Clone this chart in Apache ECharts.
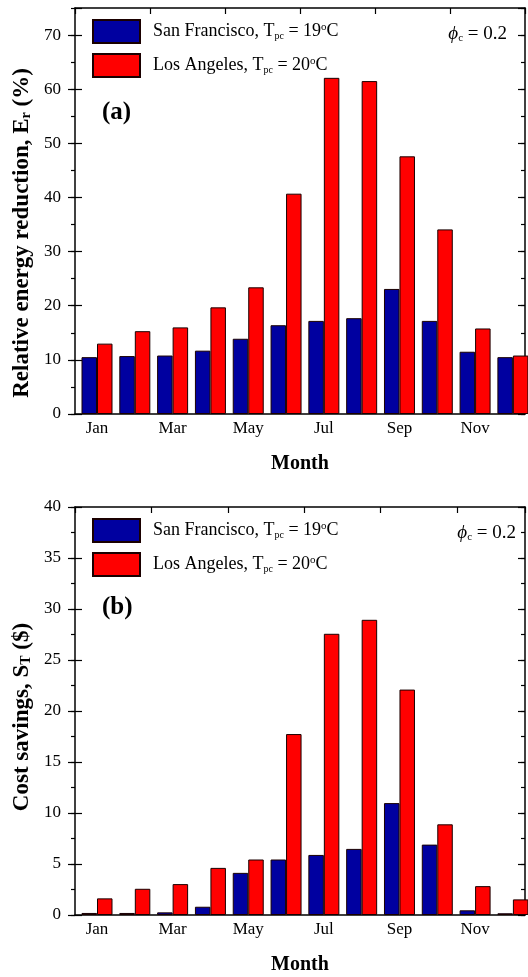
<!DOCTYPE html>
<html>
<head>
<meta charset="utf-8">
<script src="https://cdn.jsdelivr.net/npm/echarts@6/dist/echarts.min.js"></script>
<style>
html,body{margin:0;padding:0;background:#fff;}
#chart{width:528px;height:977px;}
</style>
</head>
<body>
<div id="chart"></div>
<script>
// ---- data ----
var months = ['Jan','Feb','Mar','Apr','May','Jun','Jul','Aug','Sep','Oct','Nov','Dec'];
var labelMonths = [1, 3, 5, 7, 9, 11];
var energySF = [10.5, 10.7, 10.8, 11.7, 13.9, 16.4, 17.2, 17.7, 23.1, 17.2, 11.5, 10.5];
var energyLA = [13.0, 15.3, 16.0, 19.7, 23.4, 40.7, 62.1, 61.5, 47.6, 34.1, 15.8, 10.8];
var costSF = [0.2, 0.2, 0.26, 0.81, 4.13, 5.44, 5.89, 6.48, 10.97, 6.9, 0.46, 0.17];
var costLA = [1.63, 2.57, 3.03, 4.62, 5.44, 17.74, 27.57, 28.94, 22.1, 8.89, 2.83, 1.53];
var seriesNames = ['San Francisco', 'Los Angeles'];
var legendTexts = {
  'San Francisco': 'San Francisco, T{sub|pc} = 19{sup|o}C',
  'Los Angeles': 'Los Angeles, T{sub|pc} = 20{sup|o}C'
};
var yTitleA = 'Relative energy reduction, E{sub|r} (%)';
var yTitleB = 'Cost savings, S{sub|T} ($)';

var FF = 'Liberation Serif';
var BLUE = '#0000A0', RED = '#FF0000';

function pairs(arr){ return arr.map(function(v,i){ return [i+1, v]; }); }

var chart = echarts.init(document.getElementById('chart'), null, {renderer:'canvas'});

var lineStyle = {color:'#000', width:1.5};

function bottomX(grid){
  return {
    gridIndex: grid, type:'value', position:'bottom', min:0.418, max:12.32,
    axisLine:{show:true, onZero:false, lineStyle:lineStyle},
    axisTick:{show:false}, splitLine:{show:false},
    axisLabel:{customValues:labelMonths, formatter:function(v){return months[Math.round(v)-1];},
      fontFamily:FF, fontSize:17, color:'#000', margin:6},
    name:'Month', nameLocation:'middle', nameGap:40,
    nameTextStyle:{fontFamily:FF, fontWeight:'bold', fontSize:20, color:'#000'}
  };
}
function topX(grid, max){
  return {
    gridIndex: grid, type:'value', position:'top', min:0, max:max, interval:1,
    axisLine:{show:true, onZero:false, lineStyle:lineStyle},
    axisTick:{show:true, inside:true, length:6, lineStyle:{color:'#000', width:1.2}},
    axisLabel:{show:false}, splitLine:{show:false}
  };
}
function yAxes(grid, max, interval, minor){
  var base = {gridIndex:grid, type:'value', min:0, max:max, splitLine:{show:false}};
  return [
    Object.assign({}, base, {position:'left', interval:interval,
      axisLine:{show:true, onZero:false, lineStyle:lineStyle},
      axisTick:{show:true, inside:false, length:7, lineStyle:{color:'#000', width:1.2}},
      axisLabel:{fontFamily:FF, fontSize:17, color:'#000', margin:14, showMaxLabel:(max % interval === 0)}
    }),
    Object.assign({}, base, {position:'left', interval:interval,
      axisLine:{show:false}, axisLabel:{show:false},
      axisTick:{show:true, inside:true, length:7, lineStyle:{color:'#000', width:1.2}}}),
    Object.assign({}, base, {position:'left', interval:minor,
      axisLine:{show:false}, axisLabel:{show:false},
      axisTick:{show:true, inside:false, length:4, lineStyle:{color:'#000', width:1.2}}}),
    Object.assign({}, base, {position:'right', interval:interval,
      axisLine:{show:true, onZero:false, lineStyle:lineStyle}, axisLabel:{show:false},
      axisTick:{show:true, inside:true, length:7, lineStyle:{color:'#000', width:1.2}}}),
    Object.assign({}, base, {position:'right', interval:minor,
      axisLine:{show:false}, axisLabel:{show:false},
      axisTick:{show:true, inside:true, length:4, lineStyle:{color:'#000', width:1.2}}})
  ];
}

function barSeries(name, color, data, xi, yi){
  return {type:'bar', name:name, xAxisIndex:xi, yAxisIndex:yi, data:pairs(data),
    barWidth:15.5, barGap:'0%', clip:false,
    itemStyle:{color:color, borderColor:'#1a0000', borderWidth:1}};
}

function legend(top){
  return {
    data:seriesNames, orient:'vertical', left:92, top:top, padding:0,
    itemWidth:47, itemHeight:23, itemGap:9, icon:'rect',
    formatter:function(n){ return legendTexts[n]; },
    textStyle:{fontFamily:FF, fontSize:18, color:'#000', padding:[0,0,0,8],
      rich:{
        sub:{fontFamily:FF, fontSize:10, color:'#000', verticalAlign:'bottom', padding:[8,0,0,0]},
        sup:{fontFamily:FF, fontSize:11, color:'#000', verticalAlign:'top', padding:[0,0,8,0]}
      }}
  };
}

function phiText(right, y){
  return {type:'text', x:right, y:y, style:{
    text:'{i|ϕ}{s|c} = 0.2', fontFamily:FF, fontSize:19, fill:'#000', align:'right', verticalAlign:'middle',
    rich:{i:{fontFamily:FF, fontStyle:'italic', fontSize:19, fill:'#000'},
          s:{fontFamily:FF, fontSize:11, fill:'#000', verticalAlign:'bottom', padding:[8,0,0,0]}}
  }};
}
function panelText(t, x, y){
  return {type:'text', x:x, y:y, style:{text:t, fontFamily:FF, fontWeight:'bold', fontSize:25, fill:'#000', align:'left', verticalAlign:'middle'}};
}
function yTitle(t, x, y){
  return {type:'text', x:x, y:y, rotation:Math.PI/2, style:{
    text:t, fontFamily:FF, fontWeight:'bold', fontSize:23, fill:'#000', align:'center', verticalAlign:'middle',
    rich:{sub:{fontFamily:FF, fontWeight:'bold', fontSize:14, fill:'#000', verticalAlign:'bottom', padding:[9,0,0,0]}}
  }};
}

var option = {
  animation:false,
  backgroundColor:'#fff',
  grid:[{left:75, top:8, width:450, height:406}, {left:75, top:507, width:450, height:408}],
  xAxis:[bottomX(0), topX(0, 6), bottomX(1), topX(1, 5.89)],
  yAxis:[].concat(yAxes(0, 75, 10, 5), yAxes(1, 40, 5, 2.5)),
  legend:[legend(19), legend(518)],
  series:[
    barSeries(seriesNames[0], BLUE, energySF, 0, 0),
    barSeries(seriesNames[1], RED, energyLA, 0, 0),
    barSeries(seriesNames[0], BLUE, costSF, 2, 5),
    barSeries(seriesNames[1], RED, costLA, 2, 5)
  ],
  graphic:[
    phiText(507, 34), phiText(516, 533),
    panelText('(a)', 102, 113), panelText('(b)', 102, 608),
    yTitle(yTitleA, 22, 233), yTitle(yTitleB, 22, 717)
  ]
};
chart.setOption(option);
</script>
</body>
</html>
